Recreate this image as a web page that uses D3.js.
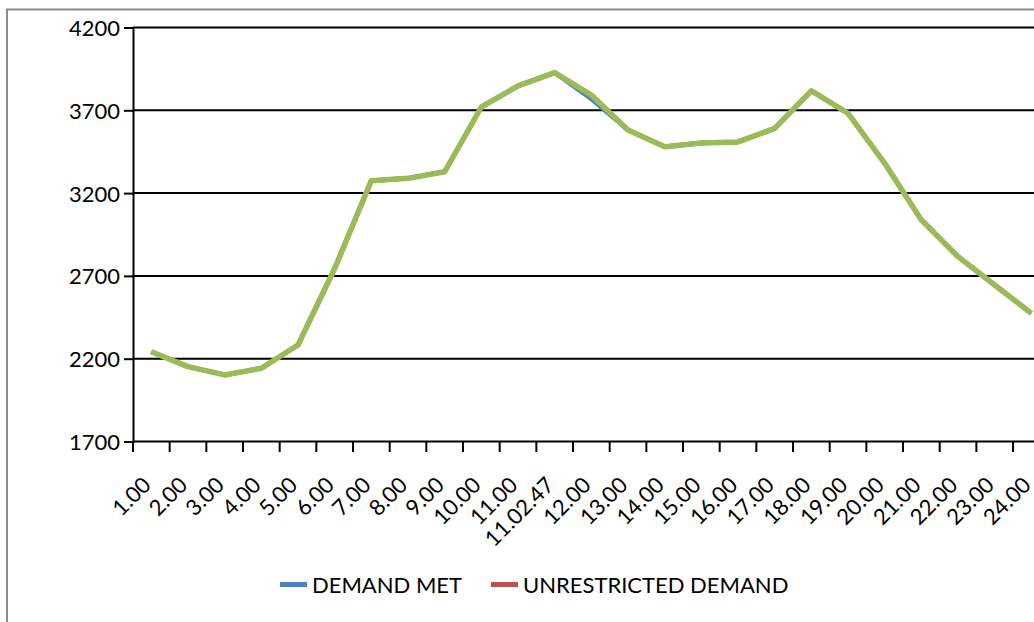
<!DOCTYPE html>
<html>
<head>
<meta charset="utf-8">
<script src="https://cdn.jsdelivr.net/npm/d3@7"></script>
<style>
  body { margin: 0; background: #fff; }
  svg { display: block; font-family: Lato, "Open Sans", sans-serif; }
</style>
</head>
<body>
<svg id="chart" width="1034" height="622"></svg>
<script>
// hours (one extra reading at 11.02.47)
var hours = ['1.00','2.00','3.00','4.00','5.00','6.00','7.00','8.00','9.00','10.00',
             '11.00','11.02.47','12.00','13.00','14.00','15.00','16.00','17.00','18.00',
             '19.00','20.00','21.00','22.00','23.00','24.00'];

var demandMet = [2242,2152,2102,2142,2283,2745,3275,3289,3329,3720,
                 3847,3927,3768,3581,3480,3503,3509,3591,3818,
                 3682,3380,3038,2816,2645,2474];

var unrestricted = [2242,2152,2102,2142,2283,2745,3275,3289,3329,3720,
                    3847,3927,3792,3581,3480,3503,3509,3591,3818,
                    3682,3380,3038,2816,2645,2474];

// third series, drawn on top, not in the legend
var thirdSeries = [2242,2152,2102,2142,2283,2745,3275,3289,3329,3720,
                   3847,3927,3792,3581,3480,3503,3509,3591,3818,
                   3682,3380,3038,2816,2645,2474];

var yTicks = [1700,2200,2700,3200,3700,4200];
var legendNames = ['DEMAND MET','UNRESTRICTED DEMAND'];
var colors = ['#4f81bd','#c0504d','#9bbb59'];

var svg = d3.select('#chart');
var margin = { top: 27.5, left: 133, bottom: 441.5, right: 1049.7 };

// outer frame
svg.append('rect')
  .attr('x', 7).attr('y', 9.5)
  .attr('width', 1060).attr('height', 640)
  .attr('fill', 'none')
  .attr('stroke', '#8c8c8c')
  .attr('stroke-width', 2);

var x = d3.scaleBand()
  .domain(hours)
  .range([margin.left, margin.right])
  .paddingInner(0).paddingOuter(0);

var y = d3.scaleLinear()
  .domain([1700, 4200])
  .range([margin.bottom, margin.top]);

// gridlines
svg.append('g')
  .selectAll('line')
  .data(yTicks.slice(1))
  .enter().append('line')
  .attr('x1', margin.left).attr('x2', margin.right)
  .attr('y1', d => y(d)).attr('y2', d => y(d))
  .attr('stroke', '#000')
  .attr('stroke-width', 2);

// y axis
var yAxis = svg.append('g')
  .attr('transform', `translate(${margin.left},0)`)
  .call(d3.axisLeft(y).tickValues(yTicks).tickSize(9).tickPadding(4).tickFormat(d3.format('d')));
yAxis.select('.domain').attr('stroke', '#000').attr('stroke-width', 2);
yAxis.selectAll('.tick line').attr('stroke', '#000').attr('stroke-width', 2);
yAxis.selectAll('.tick text')
  .attr('fill', '#000')
  .style('font-family', 'Lato, sans-serif')
  .style('font-size', '22px')
  .attr('dy', '0.36em');

// x axis: ticks at band boundaries
var xAxisG = svg.append('g');
xAxisG.append('line')
  .attr('x1', margin.left).attr('x2', margin.right)
  .attr('y1', y(1700)).attr('y2', y(1700))
  .attr('stroke', '#000').attr('stroke-width', 2);
xAxisG.selectAll('.xtick')
  .data(hours)
  .enter().append('line')
  .attr('class', 'xtick')
  .attr('x1', d => x(d)).attr('x2', d => x(d))
  .attr('y1', y(1700)).attr('y2', y(1700) + 10.5)
  .attr('stroke', '#000').attr('stroke-width', 2);
xAxisG.selectAll('.xlabel')
  .data(hours)
  .enter().append('text')
  .attr('class', 'xlabel')
  .attr('transform', d => `translate(${x(d) + x.bandwidth() / 2 - 10},${y(1700) + 34}) rotate(-45)`)
  .attr('text-anchor', 'end')
  .attr('dy', '0.7em')
  .style('font-size', '22px')
  .attr('fill', '#000')
  .text(d => d);

// series lines
var line = d3.line()
  .x((d, i) => x(hours[i]) + x.bandwidth() / 2)
  .y(d => y(d));

[demandMet, unrestricted, thirdSeries].forEach(function(s, i) {
  svg.append('path')
    .datum(s)
    .attr('d', line)
    .attr('fill', 'none')
    .attr('stroke', colors[i])
    .attr('stroke-width', i == 2 ? 5.5 : 4.5)
    .attr('stroke-linejoin', 'round');
});

// legend
var legend = svg.append('g');
var legendX = [280, 491];
legendNames.forEach(function(name, i) {
  legend.append('line')
    .attr('x1', legendX[i]).attr('x2', legendX[i] + 27)
    .attr('y1', 584.5).attr('y2', 584.5)
    .attr('stroke', colors[i]).attr('stroke-width', 5);
  legend.append('text')
    .attr('x', legendX[i] + 32)
    .attr('y', 593)
    .style('font-size', '22px')
    .attr('fill', '#000')
    .text(name);
});
</script>
</body>
</html>
